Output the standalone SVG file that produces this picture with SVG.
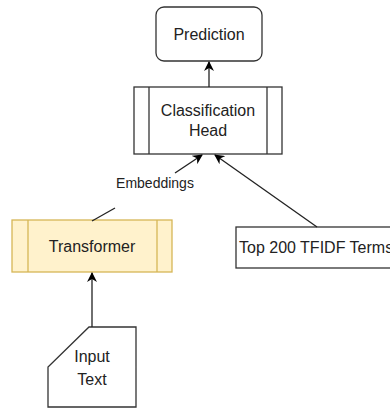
<svg xmlns="http://www.w3.org/2000/svg" width="390" height="409" viewBox="0 0 390 409">
<style>
.box{fill:#fff;stroke:#333;stroke-width:1.3}
.yel{fill:#fff2cc;stroke:#d6b656;stroke-width:1.3}
.t{font-family:"Liberation Sans",Arial,sans-serif;font-size:16px;fill:#222;text-anchor:middle}
.s{font-size:14px}
.c{fill:none;stroke:#222;stroke-width:1.3}
</style>
<defs>
<marker id="ah" viewBox="0 0 10 10" refX="9" refY="5" markerWidth="10" markerHeight="10" markerUnits="userSpaceOnUse" orient="auto">
<path d="M0,0 L10,5 L0,10 L3,5 Z" fill="#000"/>
</marker>
</defs>
<g id="prediction">
<rect class="box" x="156" y="7" width="106" height="54" rx="8"/>
<text class="t" x="209" y="40">Prediction</text>
</g>
<g id="classification-head">
<rect class="box" x="134" y="87" width="148" height="67"/>
<line class="box" x1="149" y1="87" x2="149" y2="154"/>
<line class="box" x1="267" y1="87" x2="267" y2="154"/>
<text class="t" x="208" y="116">Classification</text>
<text class="t" x="208" y="136">Head</text>
</g>
<g id="transformer">
<rect class="yel" x="12" y="220" width="160" height="52"/>
<line class="yel" x1="28" y1="220" x2="28" y2="272"/>
<line class="yel" x1="157" y1="220" x2="157" y2="272"/>
<text class="t" x="92" y="252">Transformer</text>
</g>
<g id="tfidf">
<rect class="box" x="236" y="227" width="170" height="41"/>
<text class="t" x="239" y="253" style="text-anchor:start">Top 200 TFIDF Terms</text>
</g>
<g id="input-text">
<polygon class="box" points="89,327 136,327 136,407 48,407 48,367"/>
<text class="t" x="92" y="362">Input</text>
<text class="t" x="92" y="385">Text</text>
</g>
<g id="connectors">
<line class="c" x1="209" y1="87" x2="209" y2="62" marker-end="url(#ah)"/>
<line class="c" x1="92" y1="327" x2="92" y2="273" marker-end="url(#ah)"/>
<line class="c" x1="317" y1="227" x2="215" y2="155" marker-end="url(#ah)"/>
<polyline class="c" points="92,221 115,208"/>
<line class="c" x1="175" y1="173" x2="202" y2="155" marker-end="url(#ah)"/>
<text class="t s" x="155" y="188">Embeddings</text>
</g>
</svg>
